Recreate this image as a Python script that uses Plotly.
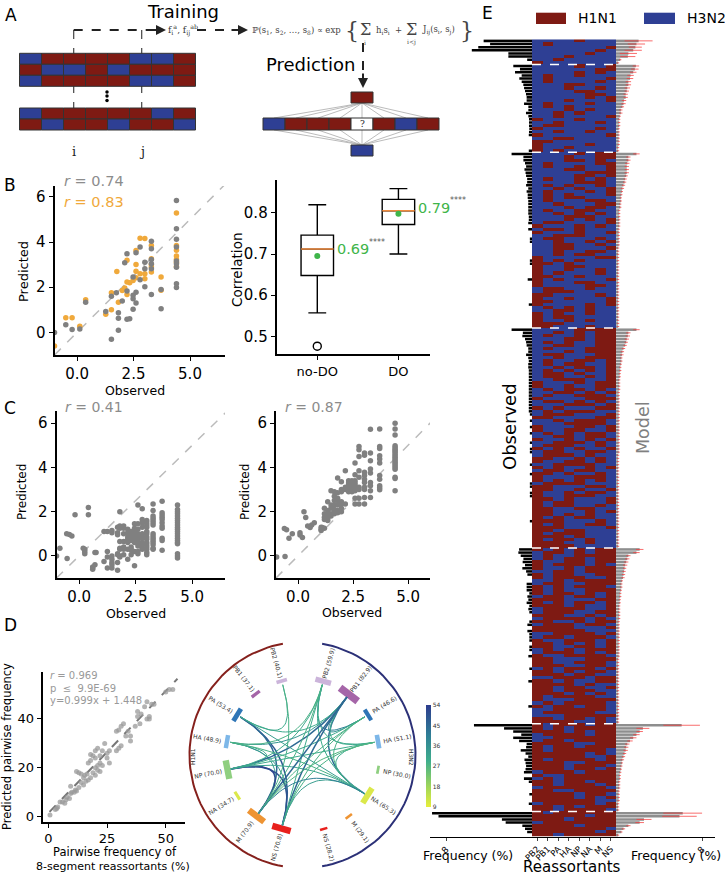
import numpy as np
import plotly.graph_objects as go
from plotly.colors import sample_colorscale

W, H = 725, 875
RED = "#7e1a13"
BLUE = "#2e3f94"
GRAY = "#808080"
ORANGE = "#f0a93b"
GREEN = "#3fb54a"

# panel A block patterns
train_rows = ["BRRRRBBR", "RBBRBRRR", "BRRRRBBR"]
train_rows2 = ["BRRRRRBR", "RBRRBRRB"]
predict_row = "BRRRWRBR"

# panel B, top scatter: columns of observed value, predicted values
b_gray_x = [4.4, 3.29, 3.72, 3.0, 2.79, 2.61, 2.21, 2.11, 2.33, 2.48, 1.74, 1.52, 2.0, 1.83, 1.27, 0.38, 0.12, -0.22, -0.5, -1.0]
b_gray_y = [[5.84, 4.59, 4.12, 3.78, 3.16, 3.04, 2.88, 2.15, 1.99], [4.03, 3.7, 3.23, 3.04, 2.82, 1.68], [1.9, 1.05],
            [3.11, 2.82, 2.02], [3.78, 2.33], [3.53, 1.78, 1.3], [3.48, 1.83, 0.58], [3.08], [0.6], [2.45, 1.64, 1.49, 1.02],
            [1.76], [1.6, -0.3], [1.39], [0.87, 0.63, 0.09], [0.93], [1.34], [0.15], [0.13], [0.34], [0.0]]
b_orange_x = [4.4, 2.79, 3.0, 3.29, 3.72, 2.61, 2.21, 1.76, 2.48, 2.33, 2.11, 2.0, 1.83, 1.52, 1.27, 0.38, 0.12, -0.22, -0.5, -1.0]
b_orange_y = [[5.28, 3.85, 3.64, 3.38, 3.23, 3.11, 2.92], [4.17, 2.6], [4.16, 2.6, 2.37], [3.85, 3.26, 3.01, 2.89, 2.67], [2.45, 1.87],
              [3.63, 3.01, 2.71, 2.42], [3.19, 2.23, 1.68], [2.7], [2.3], [2.2], [1.96], [1.86], [1.34], [1.76, 1.0], [0.8],
              [1.45], [0.27], [0.65], [0.65], [-0.6]]

# panel B, box plot
box_names = ["no-DO", "DO"]
box_q1 = [0.648, 0.772]
box_median = [0.712, 0.805]
box_q3 = [0.746, 0.833]
box_low = [0.557, 0.70]
box_high = [0.82, 0.859]
box_mean = [0.695, 0.798]
box_outlier = [0.476]

# panel C scatters
c1_x = [4.35, 3.67, 3.27, 2.99, 2.79, 2.6, 2.45, 2.3, 2.15, 1.97, 1.8, 1.7, 1.45, 1.25, 1.1, 0.75, 0.7, 0.6, 0.41, 0.25, 0.18, -0.18, -0.32, -0.43, -0.55, -0.53, -0.85, -1.0]
c1_y = [[2.3, 2.1, 2.0, 1.9, 1.8, 1.7, 1.6, 1.5, 1.4, 1.3, 1.2, 1.1, 1.0, 0.9, 0.8, 0.7, 0.6, 0.55, 0.1, 0.0, -0.1],
        [2.47, 1.95, 1.85, 1.75, 1.65, 1.5, 1.35, 1.25, 0.8, 0.7, 0.25],
        [2.35, 2.05, 1.8, 1.7, 1.6, 1.5, 1.4, 1.0, 0.9, 0.8, 0.7, 0.6, 0.5, 0.35, 0.3],
        [1.6, 1.5, 1.4, 1.3, 1.1, 1.0, 0.85, 0.75, 0.6, 0.5, 0.4, 0.3, 0.15, 0.05],
        [2.13, 1.65, 1.5, 1.3, 1.0, 0.9, 0.8, 0.6, 0.5, 0.35, 0.3],
        [2.3, 1.45, 1.2, 1.0, 0.9, 0.8, 0.7, 0.55, 0.45, 0.2, 0.1],
        [1.45, 1.25, 1.1, 0.95, 0.85, 0.75, 0.6, 0.2, -0.45],
        [1.1, 1.0, 0.9, 0.8, 0.7, 0.4, 0.3, 0.25, 0.05],
        [1.2, 1.05, 0.85, 0.75, 0.6, 0.3, -0.15],
        [1.35, 1.25, 1.0, 0.65, 0.4, 0.3, 0.05],
        [2.0, 1.35, 1.25, 0.65, 0.35, 0.3, 0.0, -0.05],
        [1.3, 1.05, 0.95, 0.1, 0.05, -0.3, -0.65],
        [1.15, 1.05, 0.0, -0.15, -0.3, -0.4, -0.55],
        [1.1, 0.2, -0.05, -0.55], [1.1, -0.25], [0.15], [0.15, -0.4], [-0.5, -0.55, -0.6], [2.19, 1.86], [0.1, 0.2, 0.3], [0.35],
        [1.86], [0.9], [0.97], [1.0], [-0.12], [0.35], [0.0]]

c2_x = [4.41, 3.71, 3.29, 3.02, 2.77, 2.59, 2.45, 2.3, 2.15, 1.97, 1.8, 1.65, 1.5, 1.35, 1.2, 1.1, 1.05, 0.74, 0.62, 0.55, 0.44, 0.35, 0.27, 0.2, 0.09, -0.26, -0.41, -0.52, -0.62, -0.59, -0.97]
c2_y = [[6.0, 5.74, 5.47, 4.98, 4.9, 4.82, 4.75, 4.68, 4.6, 4.52, 4.45, 4.38, 4.3, 4.22, 4.15, 4.08, 4.0, 3.92, 3.55, 3.5, 2.95],
        [5.74, 4.95, 4.86, 4.53, 4.38, 4.2, 3.63, 3.47, 3.17, 3.08, 2.99],
        [5.73, 4.65, 4.3, 3.93, 3.75, 3.32, 3.17, 2.95, 2.64],
        [4.65, 4.55, 3.78, 3.63, 3.47, 3.32, 3.1, 3.0, 2.64, 2.34],
        [4.94, 4.8, 4.49, 3.85, 3.55, 3.1, 3.0, 2.6, 2.34],
        [4.2, 3.67, 3.4, 3.3, 3.2, 3.1, 3.0, 2.95, 2.6, 2.34],
        [3.4, 3.3, 3.2, 3.1, 3.0, 2.95, 2.9],
        [3.4, 3.3, 3.2, 3.1, 3.0, 2.9],
        [3.85, 3.1, 3.0, 2.35],
        [3.35, 3.0, 2.9, 2.45, 2.35, 2.15, 2.0],
        [3.52, 2.85, 2.6, 2.5, 2.3, 2.05, 1.95],
        [2.9, 2.7, 2.5, 2.3, 2.1, 1.95, 1.9],
        [2.95, 2.3, 2.15, 1.9, 1.8],
        [2.45, 2.05, 1.9, 1.7, 1.6],
        [2.15, 1.9, 1.75, 1.65, 1.25],
        [1.28], [1.3, 1.2, 1.15], [1.5], [1.4], [1.28], [1.35], [1.74], [2.0], [0.83], [1.05, 0.94], [1.0], [0.8], [1.18], [1.24], [-0.03], [-0.05]]

# panel D scatter
d_pairs = [(0.7, 0.7), (3, 3), (3.6, 3.4), (4, 4), (5, 6), (6, 6), (7, 5.5), (7.5, 7), (8, 8), (9, 7.5), (9.5, 9.5), (9.5, 12.5),
           (10, 10), (11, 10), (11.5, 11), (12, 10.5), (12, 18.5), (13, 12), (13, 18), (14, 17.5), (14, 14), (15, 13), (15, 16),
           (15.5, 17), (16, 14.5), (16.5, 17.5), (17, 15), (17, 22), (18, 16), (18, 23), (18, 25.5), (19, 18), (19, 25), (20, 17),
           (20, 20), (20, 24), (20, 27), (21, 19), (21, 21), (21, 28), (22, 22), (22, 25), (22, 18.5), (23, 21), (23, 27), (24, 30),
           (25, 26), (25, 24), (26, 27), (26, 22), (29, 27), (29, 35), (30, 28), (30, 35.5), (31, 29), (31, 37), (32, 38), (33, 33),
           (34, 35), (35, 33), (35, 31), (37, 37), (38, 41), (38, 43), (39, 38), (39.5, 42), (41, 45), (42, 47), (42, 40), (43, 41),
           (43, 40), (44, 46), (45, 46), (50, 51), (51.5, 52), (53, 52)]
d_fit_x = [0.5, 55]
d_fit_y = [2, 56.4]

# panel D chord diagram
chord_theta = [15.7, 37.5, 58.5, 80, 101, 122, 143, 164]
chord_names = ["PB2", "PB1", "PA", "HA", "NP", "NA", "M", "NS"]
chord_left = [40.1, 37.1, 53.4, 48.9, 70.0, 34.7, 70.9, 70.8]
chord_right = [59.9, 82.9, 46.6, 51.1, 30.0, 65.3, 29.1, 28.2]
chord_colors = ["#cbb4da", "#a565a8", "#2e75b6", "#7db7e8", "#8fcf80", "#dbe84a", "#ee9433", "#e8201c"]
link_a = ["L0", "L2", "L2", "L3", "L3", "L4", "L4", "L3", "L0", "R0", "R1", "R0", "R1", "R0", "R2", "R3", "R1",
          "L4", "L4", "L4", "L4", "L4", "L3", "L3", "L3", "L2", "L2", "L7", "L7", "L7", "L7", "L7", "L6", "L6", "L6", "L6", "L6"]
link_b = ["L2", "L7", "L6", "L6", "L7", "L7", "L6", "L4", "L6", "R2", "R5", "R5", "R3", "R3", "R5", "R5", "R2",
          "R1", "R0", "R2", "R3", "R5", "R1", "R0", "R5", "R5", "R1", "R1", "R0", "R2", "R3", "R5", "R1", "R0", "R2", "R3", "R5"]
link_val = [30, 48, 45, 32, 35, 50, 52, 30, 28, 40, 44, 30, 30, 30, 28, 30, 36,
            45, 30, 30, 30, 32, 35, 28, 28, 33, 30, 45, 30, 28, 28, 33, 45, 28, 28, 27, 40]
link_scale = [[0, "#e8ee3a"], [0.2, "#9fd65a"], [0.45, "#3fae8c"], [0.7, "#2f7f96"], [1, "#2d3c8e"]]

# panel E segments and rows: digits are the column numbers of the minority subtype
segments = ["PB2", "PB1", "PA", "HA", "NP", "NA", "M", "NS"]
rows_h1 = ["4", "1", "7", "6", "5", "3", "2", "0",
           "47", "67", "46", "14", "17", "16", "34", "36", "45", "56", "57", "37", "15", "13", "35", "24", "27", "04", "26", "12",
           "06", "25", "07", "23", "01", "05", "03", "02",
           "467", "367", "346", "167", "147", "347", "567", "457", "146", "456", "136", "247", "157", "137", "134", "156",
           "267", "356", "145", "246", "345", "357", "127", "046", "124", "047", "234", "126", "257", "236", "237", "256",
           "245", "067", "024", "013", "034", "036", "026", "014", "027", "045", "056", "125", "123", "016", "037", "017",
           "057", "135", "235", "025", "023", "035", "012", "015",
           "4567", "2467", "1467", "3467", "1367", "2367", "1567", "3567", "1267", "2567",
           "1457", "1347", "2457", "1357", "1247", "1257", "2347", "0467", "0367", "1346",
           "2357", "1456", "0567", "1246", "3457", "0267", "1345", "1237", "0167", "2456",
           "3456", "0457", "0347", "1356", "2356", "0357", "2346", "1236", "0247", "1256",
           "1235", "0146", "0346", "2345", "0257", "1245", "0136", "0456", "0246", "1234",
           "0156", "0147", "0356", "0345", "0137", "0237", "0236", "0145", "0157", "0135",
           "0245", "0126", "0256", "0127", "0134", "0234", "0124", "0235", "0125", "0123"]
rows_h3 = ["135", "035", "023", "025", "125", "157", "124", "014", "145", "156",
           "013", "034", "137", "134", "146", "036", "345", "136", "356", "056",
           "045", "346", "057", "235", "047", "456", "567", "016", "037", "126",
           "246", "236", "024", "046", "127", "234", "237", "347", "026", "247",
           "367", "015", "245", "467", "256", "267", "357", "167", "123", "027",
           "147", "017", "067", "012", "257", "457",
           "15", "13", "35", "05", "01", "03", "45", "14", "17", "57", "56", "16", "34", "37", "36", "04", "12", "02", "25", "26",
           "07", "23", "47", "46", "67", "06", "24", "27",
           "1", "5", "3", "0", "4", "7", "6", "2"]
group_sizes = [8, 28, 56, 70, 56, 28, 8]

observed = [4.5, 3.9, 5.0, 5.6, 2.2, 2.2, 0.45, 0,
            1.74, 1.12, 1.58, 0.96, 1.18, 0.96, 0.81, 0.74, 0.65, 0.56, 0.5, 0.5, 0.74, 0.34, 0.34, 0.56, 0.34, 0.28, 0.28, 0.28,
            0.25, 0.28, 0.3, 0, 0, 0, 0, 0.3,
            1.9, 0.8, 0.8, 0.65, 0.55, 0.7, 0.6, 0.55, 0.45, 0.45, 0.55, 0.35, 0.5, 0.4, 0.4, 0.35, 0.35, 0.35, 0.35, 0.35,
            0.3, 0.3, 0.35, 0, 0.35, 0, 0, 0.2, 0.2, 0, 0, 0, 0, 0, 0.2, 0.2, 0, 0, 0, 0, 0.4, 0, 0, 0, 0, 0, 0, 0, 0.3, 0, 0, 0, 0, 0, 0, 0,
            1.9, 0.85, 0.9, 0.65, 0.55, 0.5, 0.35, 0.35, 0.55, 0.35, 0.3, 0.35, 0.35, 0.3, 0.3, 0.3, 0.3, 0.3, 0.3, 0.3,
            0.3, 0.3, 0.3, 0.3, 0.3, 0.3, 0.3, 0.2, 0, 0.2, 0, 0.2, 0, 0.2, 0, 0, 0.2, 0, 0.2, 0.2,
            0, 0, 0, 0.2, 0, 0, 0.2, 0, 0, 0.2, 0.2, 0, 0.2, 0.2, 0, 0, 0, 0, 0, 0, 0, 0.2, 0, 0, 0, 0, 0, 0, 0, 0,
            1.2, 1.27, 1.05, 0.8, 0.87, 0.65, 0.9, 0.55, 0.43, 0, 0, 0.5, 0.5, 0.5, 0.25, 0.43, 0.34, 0.5, 0.25, 0.34,
            0.25, 0, 0, 0.25, 0.43, 0, 0.43, 0.25, 0.25, 0.25, 0, 0.25, 0.25, 0, 0.34, 0, 0, 0, 0.25, 0,
            0, 0, 0.34, 0, 0, 0, 0, 0, 0, 0, 0.34, 0, 0, 0, 0, 0,
            5.4, 2.6, 1.75, 1.0, 1.75, 1.2, 0.5, 0.55, 1.05, 0.6, 0.35, 0.7, 0.6, 0.55, 0.6, 0.75, 0, 0.75, 0.3, 0,
            0, 0, 0.25, 0, 0, 0.3, 0, 0,
            9.3, 8.7, 2.8, 2.45, 0.9, 0.65, 0.45, 0]
model = [2.1, 1.9, 1.8, 1.6, 1.15, 1.1, 0.4, 0.2,
         1.85, 1.75, 1.6, 1.35, 1.3, 1.15, 1.15, 1.05, 1.0, 0.9, 0.9, 0.75, 0.7, 0.6, 0.45, 0.45, 0.35, 0.3, 0.3, 0.3,
         0.25, 0.25, 0.25, 0.25, 0.25, 0.25, 0.2, 0.2,
         1.9, 1.15, 1.15, 1.05, 1.0, 1.0, 1.0, 0.95, 0.85, 0.8, 0.7, 0.6, 0.55, 0.5, 0.45, 0.45, 0.4, 0.4, 0.3, 0.3,
         0.3, 0.3, 0.3, 0.3, 0.25, 0.25, 0.25, 0.25, 0.25, 0.25, 0.2, 0.2, 0.2, 0.2, 0.2, 0.2, 0.2, 0.2, 0.2, 0.2,
         0.2, 0.2, 0.2, 0.2, 0.2, 0.2, 0.2, 0.2, 0.2, 0.2, 0.2, 0.2, 0.2, 0.2, 0.2, 0.2,
         1.9, 1.15, 1.1, 1.0, 0.95, 0.85, 0.7, 0.6, 0.55, 0.5, 0.5, 0.45, 0.4, 0.4, 0.35, 0.35, 0.3, 0.3, 0.3, 0.3,
         0.25, 0.25, 0.25, 0.25, 0.25, 0.25, 0.25, 0.25, 0.25, 0.25, 0.25, 0.25, 0.25, 0.25, 0.25, 0.25, 0.25, 0.25, 0.25, 0.25,
         0.2, 0.2, 0.2, 0.2, 0.2, 0.2, 0.2, 0.2, 0.2, 0.2, 0.2, 0.2, 0.2, 0.2, 0.2, 0.2, 0.2, 0.2, 0.2, 0.2,
         0.2, 0.2, 0.2, 0.2, 0.2, 0.2, 0.2, 0.2, 0.2, 0.2,
         2.2, 1.9, 1.15, 1.05, 0.95, 0.85, 0.8, 0.75, 0.7, 0.65, 0.55, 0.5, 0.5, 0.45, 0.4, 0.4, 0.35, 0.35, 0.3, 0.3,
         0.3, 0.3, 0.3, 0.25, 0.25, 0.25, 0.25, 0.25, 0.25, 0.25, 0.25, 0.25, 0.25, 0.25, 0.25, 0.2, 0.2, 0.2, 0.2, 0.2,
         0.2, 0.2, 0.2, 0.2, 0.2, 0.2, 0.2, 0.2, 0.2, 0.2, 0.2, 0.2, 0.2, 0.2, 0.2, 0.2,
         6.1, 2.5, 2.2, 1.9, 1.6, 1.3, 1.05, 0.95, 0.9, 0.8, 0.7, 0.6, 0.55, 0.5, 0.45, 0.4, 0.35, 0.35, 0.3, 0.3,
         0.3, 0.25, 0.25, 0.25, 0.25, 0.2, 0.2, 0.2,
         6.2, 5.9, 2.6, 2.2, 1.15, 0.7, 0.5, 0.2]
model_err = [1.3, 0.8, 0.6, 0.8, 0.8, 0.7, 0.1, 0.1,
             0.3, 0.35, 0.3, 0.3, 0.3, 0.25, 0.25, 0.25, 0.2, 0.2, 0.2, 0.2, 0.2, 0.15, 0.15, 0.15, 0.1, 0.1, 0.1, 0.1,
             0.1, 0.1, 0.1, 0.1, 0.1, 0.1, 0.1, 0.1,
             0.3, 0.2, 0.2, 0.2, 0.2, 0.2, 0.2, 0.15, 0.15, 0.15, 0.15, 0.15, 0.1, 0.1, 0.1, 0.1, 0.1, 0.1, 0.1, 0.1,
             0.1, 0.1, 0.1, 0.1, 0.1, 0.1, 0.1, 0.1, 0.1, 0.1, 0.1, 0.1, 0.1, 0.1, 0.1, 0.1, 0.1, 0.1, 0.1, 0.1,
             0.1, 0.1, 0.1, 0.1, 0.1, 0.1, 0.1, 0.1, 0.1, 0.1, 0.1, 0.1, 0.1, 0.1, 0.1, 0.1,
             0.3, 0.2, 0.2, 0.2, 0.15, 0.15, 0.15, 0.15, 0.15, 0.1, 0.1, 0.1, 0.1, 0.1, 0.1, 0.1, 0.1, 0.1, 0.1, 0.1,
             0.1, 0.1, 0.1, 0.1, 0.1, 0.1, 0.1, 0.1, 0.1, 0.1, 0.1, 0.1, 0.1, 0.1, 0.1, 0.1, 0.1, 0.1, 0.1, 0.1,
             0.1, 0.1, 0.1, 0.1, 0.1, 0.1, 0.1, 0.1, 0.1, 0.1, 0.1, 0.1, 0.1, 0.1, 0.1, 0.1, 0.1, 0.1, 0.1, 0.1,
             0.1, 0.1, 0.1, 0.1, 0.1, 0.1, 0.1, 0.1, 0.1, 0.1,
             0.35, 0.3, 0.2, 0.2, 0.2, 0.2, 0.15, 0.15, 0.15, 0.15, 0.1, 0.1, 0.1, 0.1, 0.1, 0.1, 0.1, 0.1, 0.1, 0.1,
             0.1, 0.1, 0.1, 0.1, 0.1, 0.1, 0.1, 0.1, 0.1, 0.1, 0.1, 0.1, 0.1, 0.1, 0.1, 0.1, 0.1, 0.1, 0.1, 0.1,
             0.1, 0.1, 0.1, 0.1, 0.1, 0.1, 0.1, 0.1, 0.1, 0.1, 0.1, 0.1, 0.1, 0.1, 0.1, 0.1,
             1.7, 0.6, 0.3, 0.3, 0.3, 0.25, 0.2, 0.2, 0.2, 0.15, 0.15, 0.15, 0.1, 0.1, 0.1, 0.1, 0.1, 0.1, 0.1, 0.1,
             0.1, 0.1, 0.1, 0.1, 0.1, 0.1, 0.1, 0.1,
             1.8, 1.6, 0.7, 0.4, 0.2, 0.15, 0.1, 0.1]


def xdom(a, b):
    return [a / W, b / W]


def ydom(top, bottom):
    return [1 - bottom / H, 1 - top / H]


def flatten(xs, ys):
    out_x, out_y = [], []
    for x, col in zip(xs, ys):
        out_x += [x] * len(col)
        out_y += col
    return out_x, out_y


fig = go.Figure()


def label(x, y, text, size, color="black", angle=0, family="DejaVu Sans", anchor="center"):
    fig.add_annotation(x=x, y=y, xref="x", yref="y", text=text, showarrow=False, textangle=angle,
                       xanchor=anchor, font=dict(size=size, color=color, family=family))


def pen(xs, ys, color, width=1.0, dash=None):
    fig.add_trace(go.Scatter(x=xs, y=ys, mode="lines", xaxis="x", yaxis="y", hoverinfo="skip",
                             line=dict(color=color, width=width, dash=dash)))


def arrow(x0, y0, x1, y1):
    fig.add_annotation(x=x1, y=y1, ax=x0, ay=y0, xref="x", yref="y", axref="x", ayref="y", text="",
                       showarrow=True, arrowhead=2, arrowsize=1, arrowwidth=2, arrowcolor="#222")


def cell(x, y, w, h, kind):
    fill = {"R": RED, "B": BLUE, "W": "white"}[kind]
    fig.add_shape(type="rect", xref="x", yref="y", x0=x, x1=x + w, y0=y, y1=y + h, fillcolor=fill,
                  line=dict(color="#333", width=1))


# Panel A
for i, row in enumerate(train_rows):
    for j, k in enumerate(row):
        cell(19.5 + 22 * j, 53.3 + 11 * i, 22, 11, k)
for i, row in enumerate(train_rows2):
    for j, k in enumerate(row):
        cell(19.5 + 22 * j, 108 + 11 * i, 22, 11, k)
for j, k in enumerate(predict_row):
    cell(263 + 22 * j, 118, 22, 12, k)
    pen([362, 274 + 22 * j], [103, 118], "#aaa", 0.8)
    pen([362, 274 + 22 * j], [145, 130], "#aaa", 0.8)
cell(351, 92, 22, 11, "R")
cell(351, 145, 22, 11, "B")
label(362, 124, "?", 9, "#222", family="DejaVu Serif")
fig.add_trace(go.Scatter(x=[107, 107, 107], y=[92, 96, 100.5], mode="markers", xaxis="x", yaxis="y",
                         marker=dict(color="black", size=3.5), hoverinfo="skip"))
pen([73.7, 73.7], [30, 135], "#444", 1.2, "dash")
pen([141.7, 141.7], [30, 135], "#444", 1.2, "dash")
pen([73.7, 158], [30, 30], "#222", 2, "dash")
pen([197, 240], [30, 30], "#222", 2, "dash")
pen([363, 363], [43, 78], "#222", 2, "dash")
arrow(150, 30, 166, 30)
arrow(230, 30, 248, 30)
arrow(363, 72, 363, 88)
label(73.5, 151, "i", 13, "#222", family="DejaVu Serif")
label(141.5, 151, "j", 13, "#222", family="DejaVu Serif")
label(11, 15, "A", 17)
label(183, 11, "Training", 18)
label(310, 64, "Prediction", 18)
label(166, 30, "f<sub>i</sub><sup>a</sup>, f<sub>ij</sub><sup>ab</sup>", 9, "#333", family="DejaVu Serif", anchor="left")
label(250, 30, "ℙ(s<sub>1</sub>, s<sub>2</sub>, …, s<sub>8</sub>) ∝ exp", 8.5, "#444", family="DejaVu Serif", anchor="left")
label(352, 30, "{", 22, "#444", family="DejaVu Serif")
label(365, 29, "Σ", 16, "#444", family="DejaVu Serif")
label(365, 42, "i", 6, "#444", family="DejaVu Serif")
label(374, 30, "h<sub>i</sub>s<sub>i</sub>  +", 8.5, "#444", family="DejaVu Serif", anchor="left")
label(411, 29, "Σ", 16, "#444", family="DejaVu Serif")
label(411, 42, "i&lt;j", 6, "#444", family="DejaVu Serif")
label(420, 30, "J<sub>ij</sub>(s<sub>i</sub>, s<sub>j</sub>)", 8.5, "#444", family="DejaVu Serif", anchor="left")
label(467, 30, "}", 22, "#444", family="DejaVu Serif")

# Panel B scatter
diag_ends = [-1, 6.5]
fig.add_trace(go.Scatter(x=diag_ends, y=diag_ends, mode="lines", xaxis="x2", yaxis="y2",
                         line=dict(color="#bbb", width=1.5, dash="dash")))
bx, by = flatten(b_orange_x, b_orange_y)
fig.add_trace(go.Scatter(x=bx, y=by, mode="markers", xaxis="x2", yaxis="y2", marker=dict(color=ORANGE, size=5.5)))
bx, by = flatten(b_gray_x, b_gray_y)
fig.add_trace(go.Scatter(x=bx, y=by, mode="markers", xaxis="x2", yaxis="y2", marker=dict(color=GRAY, size=5.5)))
label(10, 185, "B", 17)
label(62, 181, "<i>r</i> = 0.74", 14.5, "#8c8c8c", anchor="left")
label(62, 202, "<i>r</i> = 0.83", 14.5, ORANGE, anchor="left")
label(135, 390, "Observed", 12.5)
label(23, 272, "Predicted", 13, angle=-90)

# Panel B box plot
box_pos = [1, 2]
fig.add_trace(go.Box(x=box_pos, q1=box_q1, median=box_median, q3=box_q3, lowerfence=box_low, upperfence=box_high,
                     width=0.4, whiskerwidth=0.55, boxpoints=False, xaxis="x3", yaxis="y3",
                     fillcolor="rgba(0,0,0,0)", line=dict(color="black", width=1.4)))
for p, m in zip(box_pos, box_median):
    fig.add_trace(go.Scatter(x=[p - 0.2, p + 0.2], y=[m, m], mode="lines", xaxis="x3", yaxis="y3",
                             line=dict(color="#f08a3c", width=1.5)))
fig.add_trace(go.Scatter(x=box_pos, y=box_mean, mode="markers", xaxis="x3", yaxis="y3", marker=dict(color=GREEN, size=6)))
fig.add_trace(go.Scatter(x=box_pos[:1], y=box_outlier, mode="markers", xaxis="x3", yaxis="y3",
                         marker=dict(color="white", size=8, line=dict(color="black", width=1.4))))
label(353, 249, "0.69", 14.5, GREEN)
label(377, 242, "****", 8, "#555")
label(434, 208, "0.79", 14.5, GREEN)
label(458, 200, "****", 8, "#555")
label(237, 270, "Correlation", 13.5, angle=-90)

# Panel C
fig.add_trace(go.Scatter(x=diag_ends, y=diag_ends, mode="lines", xaxis="x4", yaxis="y4",
                         line=dict(color="#bbb", width=1.5, dash="dash")))
cx, cy = flatten(c1_x, c1_y)
fig.add_trace(go.Scatter(x=cx, y=cy, mode="markers", xaxis="x4", yaxis="y4", marker=dict(color=GRAY, size=5.5)))
fig.add_trace(go.Scatter(x=diag_ends, y=diag_ends, mode="lines", xaxis="x5", yaxis="y5",
                         line=dict(color="#bbb", width=1.5, dash="dash")))
cx, cy = flatten(c2_x, c2_y)
fig.add_trace(go.Scatter(x=cx, y=cy, mode="markers", xaxis="x5", yaxis="y5", marker=dict(color=GRAY, size=5.5)))
label(10, 408, "C", 17)
label(63, 407, "<i>r</i> = 0.41", 14, "#8c8c8c", anchor="left")
label(283, 407, "<i>r</i> = 0.87", 14, "#8c8c8c", anchor="left")
label(136, 613, "Observed", 12.5)
label(352, 612, "Observed", 12.5)
label(22, 492, "Predicted", 12, angle=-90)
label(245, 492, "Predicted", 12, angle=-90)

# Panel D scatter
dx, dy = zip(*d_pairs)
fig.add_trace(go.Scatter(x=d_fit_x, y=d_fit_y, mode="lines", xaxis="x6", yaxis="y6",
                         line=dict(color="#777", width=2, dash="dash")))
fig.add_trace(go.Scatter(x=list(dx), y=list(dy), mode="markers", xaxis="x6", yaxis="y6",
                         marker=dict(color="#9a9a9a", size=5, opacity=0.75)))
label(10, 625, "D", 17)
label(48, 675, "<i>r</i> = 0.969", 10, "#999", anchor="left")
label(48, 688, "p  ≤  9.9E-69", 10, "#999", anchor="left")
label(48, 700, "y=0.999x + 1.448", 10, "#999", anchor="left")
label(7, 747, "Predicted pairwise frequency", 11.5, angle=-90)
label(115, 852, "Pairwise frequency of", 11.5)
label(113, 866, "8-segment reassortants (%)", 11)

# Panel D chord diagram
cen_x, cen_y, arc_r = 302.5, 755, 113


def polar(theta, r):
    t = np.radians(theta)
    return cen_x + r * np.sin(t), cen_y - r * np.cos(t)


arc = np.linspace(10, 170, 60)
ax_, ay_ = polar(-arc, arc_r)
pen(list(ax_), list(ay_), "#85201c", 2)
ax_, ay_ = polar(arc, arc_r)
pen(list(ax_), list(ay_), "#2b3077", 2)
label(192, 757, "H1N1", 6, "#333", angle=-90)
label(412, 757, "H3N2", 6, "#333", angle=90)

ends = {}
for j, name in enumerate(chord_names):
    ends["L%d" % j] = polar(-chord_theta[j], 73)
    ends["R%d" % j] = polar(chord_theta[j], 73)
    for sign, freq in ((-1, chord_left[j]), (1, chord_right[j])):
        half = np.degrees(0.135 * freq / 77)
        th = sign * chord_theta[j]
        bx_, by_ = polar(np.array([th - half, th + half]), 77)
        pen(list(bx_), list(by_), chord_colors[j], max(2, freq / 11))
        tx, ty = polar(th, 96)
        angle = th + 90 if sign < 0 else th - 90
        label(tx, ty, "%s (%.1f)" % (name, freq), 6, "#333", angle=angle)

for a, b, v in zip(link_a, link_b, link_val):
    p0, p1 = np.array(ends[a]), np.array(ends[b])
    t = np.linspace(0, 1, 40)[:, None]
    curve = (1 - t) ** 2 * p0 + 2 * t * (1 - t) * np.array([cen_x, cen_y]) + t ** 2 * p1
    col = sample_colorscale(link_scale, (v - 9) / 45)[0]
    pen(list(curve[:, 0]), list(curve[:, 1]), col, 1.5 if v > 40 else 1.0)

fig.add_trace(go.Scatter(x=[cen_x, cen_x], y=[cen_y, cen_y], mode="markers", xaxis="x", yaxis="y", hoverinfo="skip",
                         marker=dict(size=1, opacity=0, color=[9, 54], cmin=9, cmax=54, colorscale=link_scale,
                                     colorbar=dict(x=426 / W, xanchor="left", y=1 - 756 / H, yanchor="middle",
                                                   lenmode="pixels", len=102, thickness=5, outlinewidth=0,
                                                   tickvals=[9, 18, 27, 36, 45, 54], ticklen=0, xpad=0, ypad=0,
                                                   tickfont=dict(size=6, color="#333")))))

# Panel E heat map and the two frequency bar charts
z = [[1 if str(c) in r else 0 for c in range(8)] for r in rows_h1] + \
    [[0 if str(c) in r else 1 for c in range(8)] for r in rows_h3]
rows = list(range(len(z)))
fig.add_trace(go.Heatmap(z=z, x=list(range(8)), y=rows, xaxis="x7", yaxis="y7", zmin=0, zmax=1, showscale=False,
                         colorscale=[[0, BLUE], [1, RED]]))
fig.add_trace(go.Bar(x=observed, y=rows, orientation="h", xaxis="x8", yaxis="y8", width=0.8,
                     marker=dict(color="black", line=dict(width=0))))
fig.add_trace(go.Bar(x=model, y=rows, orientation="h", xaxis="x9", yaxis="y9", width=0.8,
                     marker=dict(color="#8e8e8e", line=dict(width=0)),
                     error_x=dict(type="data", array=model_err, color="rgba(245,60,60,0.75)", thickness=1, width=0)))
edge = -0.5
for size in group_sizes[:-1]:
    edge += size
    fig.add_shape(type="line", xref="x7", yref="y7", x0=-0.5, x1=7.5, y0=edge, y1=edge,
                  line=dict(color="white", width=1.5, dash="dash"))
label(487, 13, "E", 17)
fig.add_shape(type="rect", xref="x", yref="y", x0=536, x1=566, y0=12.7, y1=24, fillcolor=RED, line=dict(width=0))
fig.add_shape(type="rect", xref="x", yref="y", x0=644, x1=675, y0=12.7, y1=24, fillcolor=BLUE, line=dict(width=0))
label(597, 18, "H1N1", 14)
label(706, 18, "H3N2", 14)
label(509, 427, "Observed", 18, angle=-90)
label(643, 428, "Model", 17.5, "#808080", angle=-90)
label(468, 855, "Frequency (%)", 12.5)
label(676, 855, "Frequency (%)", 12.5)
label(572, 866.5, "Reassortants", 15)

spine = dict(showline=True, linecolor="black", linewidth=2, ticks="outside", ticklen=4, tickwidth=1, tickcolor="black",
             showgrid=False, zeroline=False)
hidden = dict(visible=False, showgrid=False, zeroline=False)
ticks_big = dict(size=15, family="DejaVu Sans", color="black")

fig.update_layout(
    width=W, height=H, margin=dict(l=0, r=0, t=0, b=0, autoexpand=False), showlegend=False,
    paper_bgcolor="white", plot_bgcolor="white", font=dict(family="DejaVu Sans"), barmode="overlay",
    xaxis=dict(range=[0, W], domain=[0, 1], anchor="y", **hidden),
    yaxis=dict(range=[H, 0], domain=[0, 1], anchor="x", **hidden),
    xaxis2=dict(domain=xdom(54.5, 225), range=[-1, 6.55], anchor="y2", tickvals=[0, 2.5, 5], tickformat=".1f", tickfont=ticks_big, **spine),
    yaxis2=dict(domain=ydom(186, 355), range=[-1, 6.48], anchor="x2", tickvals=[0, 2, 4, 6], tickfont=ticks_big, **spine),
    xaxis3=dict(domain=xdom(276.7, 439), range=[0.5, 2.5], anchor="y3", tickvals=box_pos, ticktext=box_names,
                tickfont=dict(size=13, family="DejaVu Sans", color="black"), **spine),
    yaxis3=dict(domain=ydom(180, 354), range=[0.457, 0.88], anchor="x3", tickvals=[0.5, 0.6, 0.7, 0.8], tickformat=".1f", tickfont=ticks_big, **spine),
    xaxis4=dict(domain=xdom(56.5, 225), range=[-1, 6.45], anchor="y4", tickvals=[0, 2.5, 5], tickformat=".1f", tickfont=ticks_big, **spine),
    yaxis4=dict(domain=ydom(411, 578), range=[-1, 6.55], anchor="x4", tickvals=[0, 2, 4, 6], tickfont=ticks_big, **spine),
    xaxis5=dict(domain=xdom(276, 440), range=[-1, 6.45], anchor="y5", tickvals=[0, 2.5, 5], tickformat=".1f", tickfont=ticks_big, **spine),
    yaxis5=dict(domain=ydom(411, 578), range=[-1, 6.55], anchor="x5", tickvals=[0, 2, 4, 6], tickfont=ticks_big, **spine),
    xaxis6=dict(domain=xdom(42.7, 185), range=[-2.4, 58.2], anchor="y6", tickvals=[0, 25, 50],
                tickfont=dict(size=13, family="DejaVu Sans", color="black"), **spine),
    yaxis6=dict(domain=ydom(671.7, 821.7), range=[-2, 59.3], anchor="x6", tickvals=[0, 20, 40],
                tickfont=dict(size=13, family="DejaVu Sans", color="black"), **spine),
    xaxis7=dict(domain=xdom(532, 616), range=[-0.5, 7.5], anchor="y7", tickvals=list(range(8)), ticktext=segments, tickangle=-45,
                tickfont=dict(size=8.5, family="DejaVu Sans", color="black"), showline=True, linecolor="black", linewidth=1,
                ticks="outside", ticklen=3, showgrid=False, zeroline=False),
    yaxis7=dict(domain=ydom(39.3, 836.7), range=[253.5, -0.5], anchor="x7", **hidden),
    xaxis8=dict(domain=xdom(430, 532), range=[9.49, 0], anchor="y8", tickvals=[8], tickangle=-45,
                tickfont=dict(size=9, family="DejaVu Sans", color="black"), showline=True, linecolor="black", linewidth=1,
                ticks="outside", ticklen=3, showgrid=False, zeroline=False),
    yaxis8=dict(domain=ydom(39.3, 836.7), range=[253.5, -0.5], anchor="x8", **hidden),
    xaxis9=dict(domain=xdom(616, 715), range=[0, 9.2], anchor="y9", tickvals=[8], tickangle=-45,
                tickfont=dict(size=9, family="DejaVu Sans", color="black"), showline=True, linecolor="black", linewidth=1,
                ticks="outside", ticklen=3, showgrid=False, zeroline=False),
    yaxis9=dict(domain=ydom(39.3, 836.7), range=[253.5, -0.5], anchor="x9", **hidden),
)

fig.write_html("out.html", config={"displayModeBar": False}, post_script="document.body.style.margin='0';")
